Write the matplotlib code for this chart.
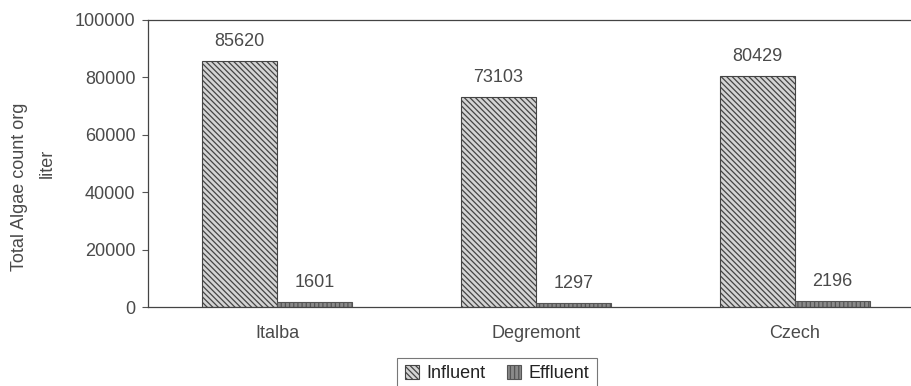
import matplotlib
matplotlib.use("Agg")
import matplotlib.pyplot as plt
import numpy as np

# values
sites = ['Italba', 'Degremont', 'Czech']
influent = [85620, 73103, 80429]
effluent = [1601, 1297, 2196]
yticks = [0, 20000, 40000, 60000, 80000, 100000]

TEXT = '#4a4a4a'
FS = 13
plt.rcParams['font.family'] = ['Liberation Sans', 'DejaVu Sans']
plt.rcParams['hatch.linewidth'] = 0.9
plt.rcParams['hatch.color'] = '#2a2a2a'

fig = plt.figure(figsize=(9.11, 3.86), dpi=100)
ax = fig.add_axes([148 / 911, 79 / 386, 763 / 911, 287 / 386])

x = np.arange(len(sites))
w = 0.29
b1 = ax.bar(x - w / 2, influent, w, color='#d4d4d4', edgecolor='#444444',
            linewidth=0.8, hatch='\\\\\\\\\\\\', label='Influent')
b2 = ax.bar(x + w / 2, effluent, w, color='#8a8a8a', edgecolor='#555555',
            linewidth=0.8, hatch='||||', label='Effluent')

for xi, v in zip(x - w / 2, influent):
    ax.annotate(str(v), (xi, v), xytext=(0, 8), textcoords='offset points',
                ha='center', va='bottom', fontsize=FS, color=TEXT)
for xi, v in zip(x + w / 2, effluent):
    ax.annotate(str(v), (xi, v), xytext=(0, 8), textcoords='offset points',
                ha='center', va='bottom', fontsize=FS, color=TEXT)

ax.set_xlim(-0.5, 2.45)
ax.set_ylim(0, 100000)
ax.set_yticks(yticks)
ax.set_yticklabels([str(t) for t in yticks], fontsize=FS, color=TEXT)
ax.set_xticks(x)
ax.set_xticklabels(sites, fontsize=FS, color=TEXT)
ax.tick_params(axis='x', length=0, pad=13)
ax.tick_params(axis='y', length=4, width=0.8, color='#555555', pad=5)

for s in ['left', 'top', 'bottom']:
    ax.spines[s].set_color('#444444')
    ax.spines[s].set_linewidth(0.9)
ax.spines['right'].set_visible(False)

fig.text(20 / 911, 1 - 187 / 386, 'Total Algae count org', rotation=90,
         ha='center', va='center', fontsize=FS, color=TEXT)
fig.text(47 / 911, 1 - 163 / 386, 'liter', rotation=90,
         ha='center', va='center', fontsize=FS, color=TEXT)

leg = fig.legend(handles=[b1, b2], loc='upper center',
                 bbox_to_anchor=(497 / 911, 1 - 349 / 386), ncol=2,
                 fontsize=FS, frameon=True, fancybox=False,
                 handlelength=0.8, handleheight=0.8, handletextpad=0.4,
                 columnspacing=1.2, borderpad=0.4)
leg.get_frame().set_edgecolor('#555555')
leg.get_frame().set_linewidth(0.8)
for t in leg.get_texts():
    t.set_color('#222222')

fig.savefig('out.png', dpi=100)
